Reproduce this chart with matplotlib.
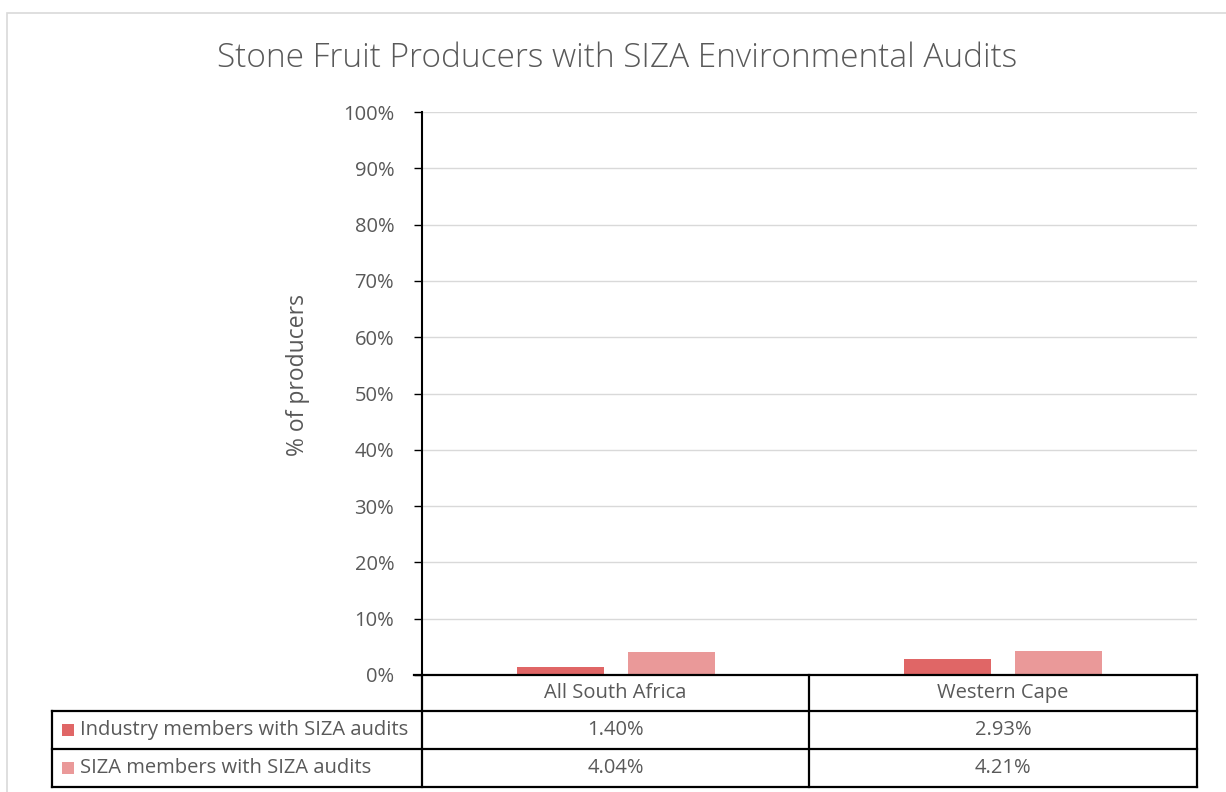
import matplotlib
matplotlib.use("Agg")
import matplotlib.pyplot as plt
from matplotlib.lines import Line2D
from matplotlib.patches import Rectangle
import numpy as np

# Data
categories = ["All South Africa", "Western Cape"]
series_names = ["Industry members with SIZA audits", "SIZA members with SIZA audits"]
industry_vals = [1.40, 2.93]
siza_vals = [4.04, 4.21]
colors = ["#E06666", "#EA9999"]
text_color = "#595959"

plt.rcParams['font.family'] = ['Open Sans', 'DejaVu Sans']

W, H = 1226, 792
fig = plt.figure(figsize=(W / 100, H / 100), dpi=100)

def fx(px):
    return px / W

def fy(py):
    return 1 - py / H

# axes placement (pixel positions)
ax_l, ax_r, ax_t, ax_b = 422, 1197, 112, 675
ax = fig.add_axes([fx(ax_l), fy(ax_b), fx(ax_r) - fx(ax_l), fy(ax_t) - fy(ax_b)])

x = np.arange(len(categories))
bw = 0.225
off = 0.1435
ax.bar(x - off, industry_vals, bw, color=colors[0], zorder=3)
ax.bar(x + off, siza_vals, bw, color=colors[1], zorder=3)

ax.set_xlim(-0.5, len(categories) - 0.5)
ax.set_ylim(0, 100)
ax.set_yticks(np.arange(0, 101, 10))
ax.set_yticklabels([f"{v}%" for v in range(0, 101, 10)], color=text_color, fontsize=14.5)
ax.yaxis.grid(True, color="#D9D9D9", linewidth=1)
ax.set_axisbelow(True)
ax.tick_params(axis="y", length=6, width=1, color="black", pad=14)
ax.set_xticks([])
for s in ["top", "right", "bottom"]:
    ax.spines[s].set_visible(False)
ax.spines["left"].set_color("black")
ax.spines["left"].set_linewidth(1.5)

# title and y label
fig.text(fx(617), fy(58), "Stone Fruit Producers with SIZA Environmental Audits",
         ha="center", va="center", fontsize=24, color=text_color, fontweight="light")
fig.text(fx(298), fy(375), "% of producers", rotation=90, ha="center", va="center",
         fontsize=16.5, color=text_color)

# outer chart border
fig.add_artist(Rectangle((fx(7), -0.1), 1.2, fy(13) + 0.1, transform=fig.transFigure,
                         fill=False, edgecolor="#D9D9D9", linewidth=1.2))

# data table
rows_y = [675, 711, 749, 787]
col_x = [52, 422, 809, 1197]
lw = 1.6

def hline(y, x0, x1):
    fig.add_artist(Line2D([fx(x0), fx(x1)], [fy(y), fy(y)], color="black", linewidth=lw))

def vline(xp, y0, y1):
    fig.add_artist(Line2D([fx(xp), fx(xp)], [fy(y0), fy(y1)], color="black", linewidth=lw))

hline(rows_y[0], 414, col_x[-1])
for y in rows_y[1:]:
    hline(y, col_x[0], col_x[-1])
vline(col_x[0], rows_y[1], rows_y[3])
for xp in col_x[1:]:
    vline(xp, rows_y[0], rows_y[3])

fs_table = 14.5
for i, cat in enumerate(categories):
    cx = 0.5 * (col_x[i + 1] + col_x[i + 2])
    cy = 0.5 * (rows_y[0] + rows_y[1])
    fig.text(fx(cx), fy(cy), cat, ha="center", va="center", fontsize=fs_table, color=text_color)

for r, (name, vals) in enumerate(zip(series_names, [industry_vals, siza_vals])):
    cy = 0.5 * (rows_y[r + 1] + rows_y[r + 2])
    fig.add_artist(Rectangle((fx(62), fy(cy + 6)), fx(12), 12 / H, transform=fig.transFigure,
                             facecolor=colors[r], edgecolor="none"))
    fig.text(fx(80), fy(cy), name, ha="left", va="center", fontsize=fs_table, color=text_color)
    for i, v in enumerate(vals):
        cx = 0.5 * (col_x[i + 1] + col_x[i + 2])
        fig.text(fx(cx), fy(cy), f"{v:.2f}%", ha="center", va="center", fontsize=fs_table, color=text_color)

fig.savefig("out.png", dpi=100)
